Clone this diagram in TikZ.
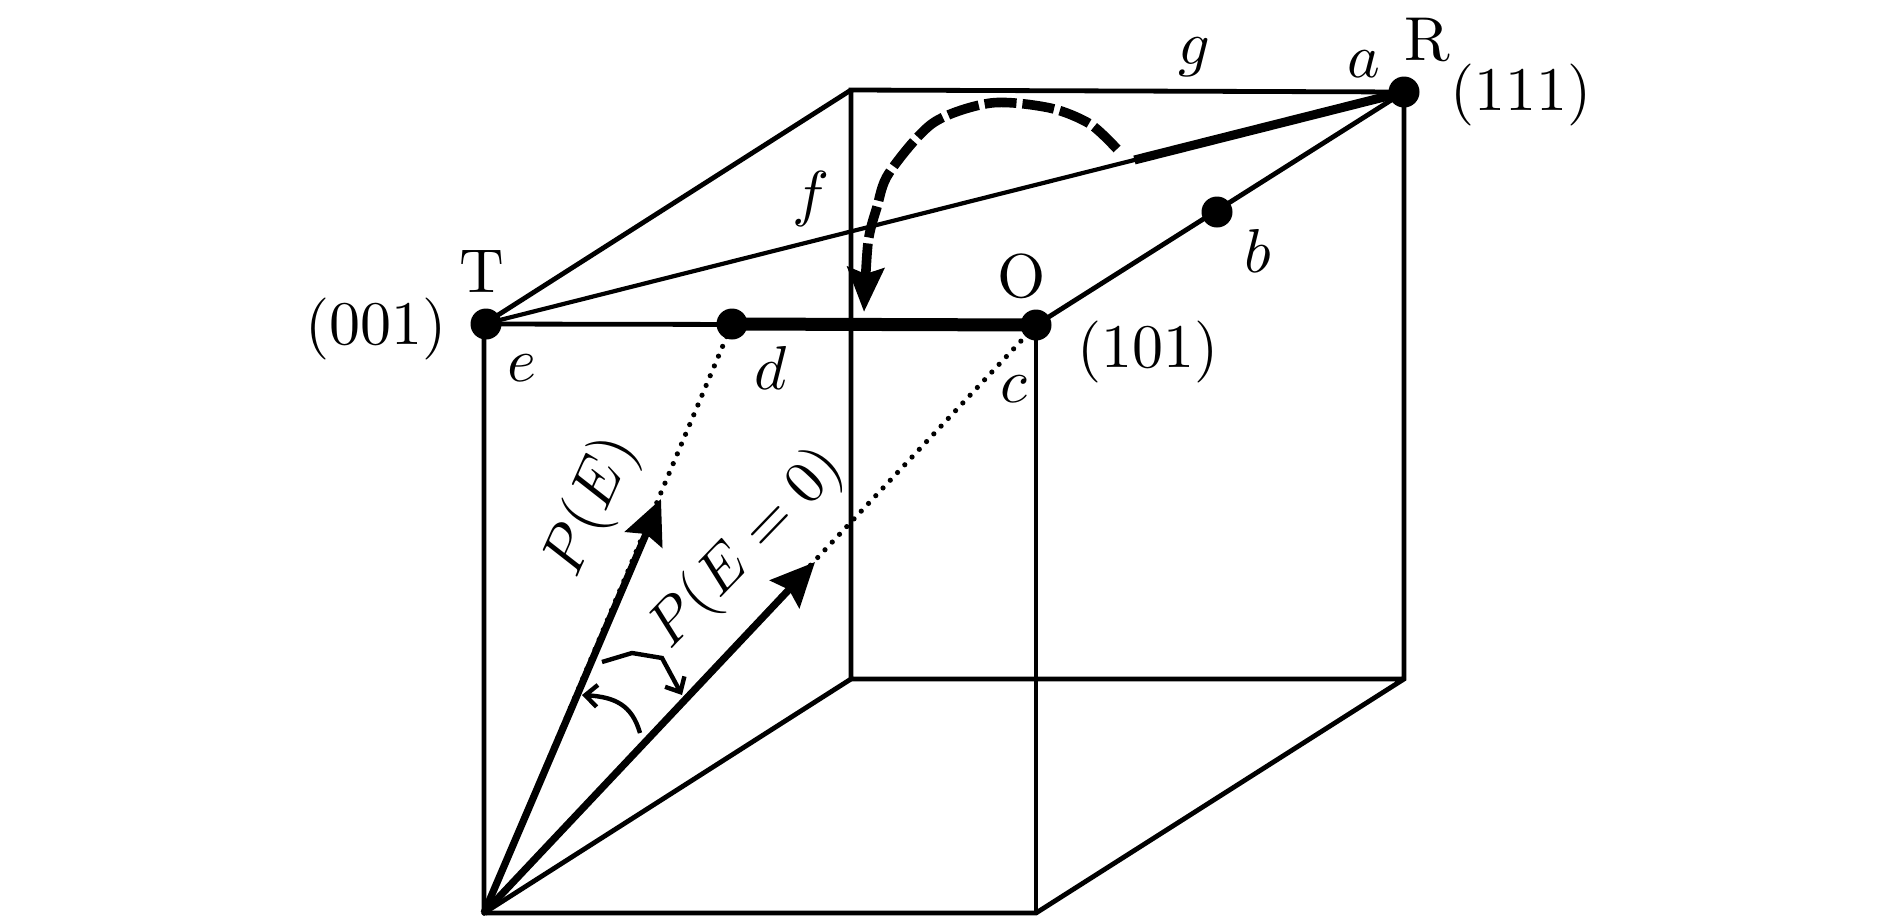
\documentclass[tikz,border=0pt]{standalone}
\usetikzlibrary{arrows.meta,calc}
\tikzset{
  edge/.style={line width=2.4pt},
  hair/.style={line width=2.1pt},
  dots/.style={line width=2.6pt,line cap=round,dash pattern=on 0pt off 5.3pt},
  vec/.style={line width=3.6pt,-{Stealth[length=22pt,width=20pt,inset=3pt]}},
  swing/.style={line width=2.2pt,-{Straight Barb[length=6pt,width=11pt]}},
  txt/.style={inner sep=0pt,scale=3.1},
  dot/.style={circle,fill=black,inner sep=0pt,minimum size=15.5pt}
}
\begin{document}
\begin{tikzpicture}[x=0.5pt,y=-0.5pt]
\useasboundingbox (0,0) rectangle (1890,922);
% corners of the cube
\coordinate (A) at (484,913);
\coordinate (B) at (1036,913);
\coordinate (C) at (851,679);
\coordinate (D) at (1404,679);
\coordinate (T) at (484,324);
\coordinate (O) at (1036,325);
\coordinate (U) at (851,90);
\coordinate (R) at (1404,92);
\coordinate (pt) at (486,324);
\coordinate (pd) at (732,324);
\coordinate (pb) at (1217,212);
\coordinate (tipe) at (661,499);
\coordinate (tipz) at (815,562);
\coordinate (ga) at ($(T)!.707!(R)$);
% edges
\draw[edge] (A) -- (B) -- (D) -- (R) -- (U) -- (C) -- (D);
\draw[edge] (A) -- (C);
\draw[edge] (A) -- (T) -- (U);
\draw[edge] (B) -- (O);
\draw[edge] (T) -- (O) -- (R);
\draw[hair] (T) -- (R);
\draw[line width=4.5pt] (ga) -- (R);
\draw[line width=6.5pt] (pd) -- (O);
% the two vectors
\draw[dots] (A) -- (pd);
\draw[dots] (A) -- (O);
\draw[vec] (A) -- (tipe);
\draw[vec] (A) -- (tipz);
% small swings
\draw[swing] (602,662) -- (632,653) -- (662,658) -- (682,695);
\draw[swing] (640,733) .. controls (632,705) and (615,697) .. (582,695);
% big dashed swing
\draw[line width=4.8pt,dash pattern=on 16pt off 3pt,-{Stealth[length=22pt,width=18pt,inset=3pt]}]
  plot[smooth] coordinates {(1117,149) (1090,124) (1050,108) (991,103) (933,123) (889,173) (877,207) (868,243) (864,312)};
% dots
\foreach \p in {pt,O,R,pd,pb}
\node[dot] at (\p) {};
% labels
\node[txt] (lR) at (1427,40) {R};
\node[txt] (l111) at (1521,95) {(111)};
\node[txt] (la) at (1364,64) {$a$};
\node[txt] (lg) at (1194,57) {$g$};
\node[txt] (lf) at (811,199) {$f$};
\node[txt] (lT) at (482,272) {T};
\node[txt] (l001) at (376,329) {(001)};
\node[txt] (le) at (522,368) {$e$};
\node[txt] (ld) at (771,368) {$d$};
\node[txt] (lc) at (1014,389) {$c$};
\node[txt] (lO) at (1022,276) {O};
\node[txt] (l101) at (1148,352) {(101)};
\node[txt] (lb) at (1258,251) {$b$};
\node[txt,rotate=66] (lpe) at (592,507) {$P(E)$};
\node[txt,rotate=46,scale=0.97] (lpz) at (747,549) {$P(E=0)$};
\end{tikzpicture}
\end{document}
